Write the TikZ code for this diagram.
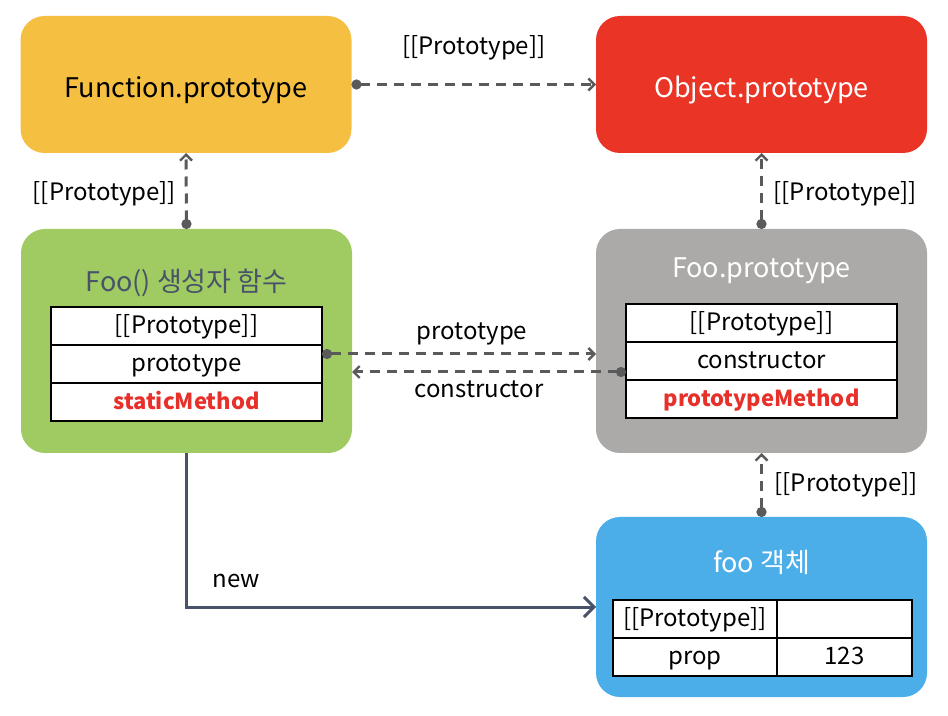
\documentclass[tikz,border=0pt]{standalone}
\usepackage{fontspec}
\setmainfont{Noto Sans CJK KR}
\usepackage{xcolor}
\usetikzlibrary{arrows.meta, positioning}
\definecolor{funcyellow}{HTML}{F5BF42}
\definecolor{objred}{HTML}{EA3425}
\definecolor{ctorgreen}{HTML}{A0CB62}
\definecolor{protogray}{HTML}{ABAAA9}
\definecolor{instblue}{HTML}{4BAEE8}
\definecolor{linkgray}{HTML}{5A5A5A}
\definecolor{slate}{HTML}{48536A}
\definecolor{methodred}{HTML}{E8302A}

\begin{document}
\begin{tikzpicture}[x=0.5pt, y=-0.5pt,
		objbox/.style={rounded corners=12pt, minimum width=165.5pt, inner sep=0pt, outer sep=0pt},
		title/.style={font=\fontsize{13.5}{16}\selectfont},
		boxtitle/.style={title, text height=15pt, text depth=1.5pt},
		cell/.style={draw=black, line width=0.8pt, fill=white, minimum width=135.5pt, minimum height=19pt, inner sep=0pt, outer sep=0pt, text height=9.8pt, text depth=2.4pt, font=\fontsize{12}{14}\selectfont},
		method/.style={text=methodred, font=\fontsize{11}{14}\selectfont\bfseries},
		lbl/.style={font=\fontsize{12}{14}\selectfont},
		link/.style={draw=linkgray, line width=1.5pt, dash pattern=on 5pt off 3.5pt, {Circle[length=5pt]}-{Straight Barb[length=3pt, width=6pt, line width=1.2pt]}},
		newlink/.style={draw=slate, line width=1.5pt, -{Straight Barb[length=5pt, width=10pt, line width=1.5pt]}}]
		\useasboundingbox (0,0) rectangle (948,716);
		\node[objbox, fill=funcyellow, minimum height=68.5pt, boxtitle] (funcproto) at (186,84.5) {Function.prototype};
		\node[objbox, fill=objred, minimum height=68.5pt, boxtitle, text=white] (objproto) at (761.5,84.5) {Object.prototype};
		\node[objbox, fill=ctorgreen, minimum height=112pt] (fooctor) at (186.5,341) {};
		\node[objbox, fill=protogray, minimum height=112pt] (fooproto) at (761.5,341) {};
		\node[objbox, fill=instblue, minimum height=90pt] (fooobj) at (761.5,607) {};
		\node[title, text=slate, anchor=base] (ctortitle) at (186.5,292) {Foo() 생성자 함수};
		\node[title, text=white, anchor=base] (prototitle) at (761.5,278) {Foo.prototype};
		\node[title, text=white, anchor=base] (objtitle) at (761.5,573) {foo 객체};
		\node[cell] (ctor1) at (186.5,326) {[[Prototype]]};
		\node[cell, below=0pt of ctor1] (ctor2) {prototype};
		\node[cell, below=0pt of ctor2, method] (ctor3) {staticMethod};
		\node[cell] (proto1) at (761.5,323) {[[Prototype]]};
		\node[cell, below=0pt of proto1] (proto2) {constructor};
		\node[cell, below=0pt of proto2, method] (proto3) {prototypeMethod};
		\node[cell, minimum width=82pt] (inst1) at (695,619) {[[Prototype]]};
		\node[cell, minimum width=67.5pt, right=0pt of inst1] (inst2) {};
		\node[cell, minimum width=82pt, below=0pt of inst1] (inst3) {prop};
		\node[cell, minimum width=67.5pt, right=0pt of inst3] (inst4) {123};
		\coordinate (protostart) at ([yshift=5pt]ctor2.east);
		\coordinate (ctorstart) at ([yshift=-5.5pt]proto2.west);
		\draw[link] (funcproto.east) -- (objproto.west) node[midway, lbl, anchor=base, yshift=15pt] {[[Prototype]]};
		\draw[link] (fooctor.north) -- (funcproto.south) node[midway, lbl, anchor=base east, xshift=-1pt, yshift=-5pt] {[[Prototype]]};
		\draw[link] (fooproto.north) -- (objproto.south) node[midway, lbl, anchor=base west, xshift=2pt, yshift=-5pt] {[[Prototype]]};
		\draw[link] (fooobj.north) -- (fooproto.south) node[midway, lbl, anchor=base west, xshift=2.5pt, yshift=-3.5pt] {[[Prototype]]};
		\draw[link] (protostart) -- (protostart -| fooproto.west) node[midway, lbl, anchor=base, xshift=6.5pt, yshift=7pt] {prototype};
		\draw[link] (ctorstart) -- (ctorstart -| fooctor.east) node[midway, lbl, anchor=base, xshift=-5pt, yshift=-13pt] {constructor};
		\draw[newlink] (fooctor.south) |- (fooobj.west) node[pos=0.522, lbl, anchor=base west, yshift=9.5pt] {new};
	\end{tikzpicture}
\end{document}
